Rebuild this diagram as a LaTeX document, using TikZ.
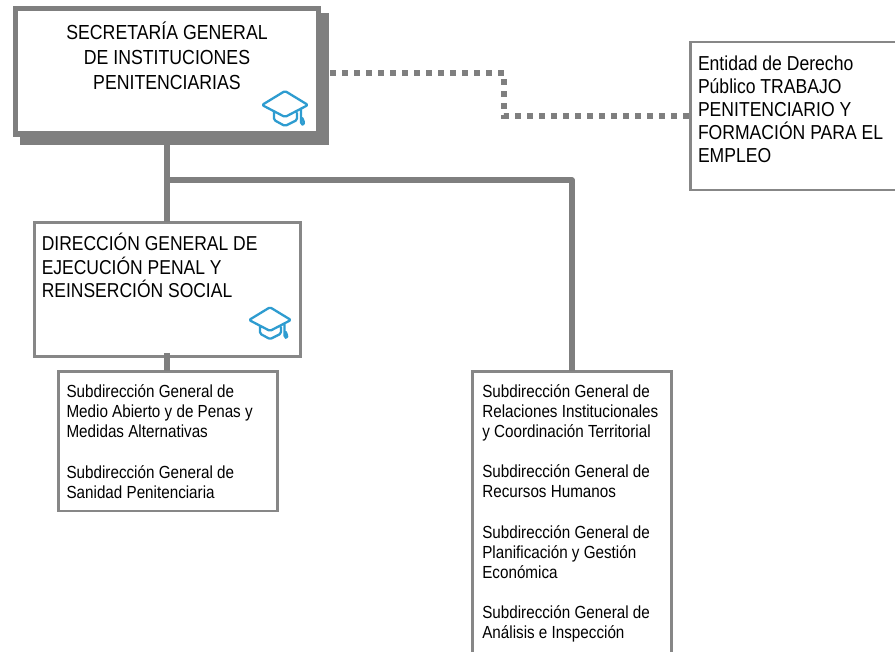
\documentclass[tikz,border=0pt]{standalone}
\usepackage{fontspec}
\setmainfont{Liberation Sans}[FakeStretch=0.87]
\definecolor{linegray}{HTML}{7F7F7F}
\definecolor{boxgray}{HTML}{878787}
\definecolor{capblue}{HTML}{2E9CD0}
\newcommand{\boxtext}[3]{\parbox[c][#2pt][t]{#1pt}{\raggedright #3\par}}
\tikzset{
  x=1pt,y=-1pt,
  orgbox/.style={draw=linegray,fill=white,anchor=north west,inner sep=0pt,outer sep=0pt},
  thinbox/.style={orgbox,draw=boxgray,line width=2.6pt},
  secbox/.style={orgbox,line width=5.5pt},
  shadowbox/.style={fill=linegray,anchor=north west,inner sep=0pt,outer sep=0pt},
  trunk/.style={draw=linegray,line width=5.5pt},
  dotline/.style={draw=linegray,line width=5.6pt,dash pattern=on 6pt off 6pt},
  gradcap/.pic={
    \draw[capblue,line width=2.3pt,line join=round,line cap=round,rounded corners=1.5pt]
      (-23,0) -- (0,-14) -- (23,0) -- (0,12) -- cycle
      (-11,7) -- (-11,15) -- (0,21) -- (12,15) -- (12,8)
      (16,4) -- (16,19) -- (19,20) -- (18.5,15) -- (17,13);
  }
}
\begin{document}
\begin{tikzpicture}
\useasboundingbox (0,0) rectangle (895,652);
\clip (0,0) rectangle (895,652);
\node[shadowbox,minimum width=309pt,minimum height=132pt] (secshadow) at (20,13) {};
\coordinate (junction) at (167,180);
\coordinate (turn) at (572,180);
\coordinate (dotA) at (504,73.3);
\coordinate (dotB) at (504,116);
\node[secbox,minimum width=303pt,minimum height=125.5pt] (sec) at (15.5,8.75)
  {\boxtext{303}{125.5}{\vspace{13pt}\centering
   \fontsize{20.35}{25}\selectfont SECRETARÍA GENERAL\\ DE INSTITUCIONES\\ PENITENCIARIAS}};
\node[thinbox,minimum width=266pt,minimum height=134pt] (dir) at (34.3,222.5)
  {\hspace{5pt}\boxtext{256}{134}{\vspace{10.6pt}\fontsize{20.1}{23.5}\selectfont DIRECCIÓN GENERAL DE\\ EJECUCIÓN PENAL Y\\ REINSERCIÓN SOCIAL}\hspace{5pt}};
\node[thinbox,minimum width=219pt,minimum height=139.5pt] (subA) at (58.3,371.5)
  {\hspace{5.5pt}\boxtext{208}{139.5}{\vspace{12.8pt}\fontsize{17.5}{20}\selectfont Subdirección General de\\ Medio Abierto y de Penas y\\ Medidas Alternativas\\[21pt] Subdirección General de\\ Sanidad Penitenciaria}\hspace{5.5pt}};
\node[thinbox,minimum width=199pt,minimum height=300pt] (subB) at (472.3,371.5)
  {\hspace{7pt}\boxtext{186}{300}{\vspace{12.8pt}\fontsize{17.5}{20}\selectfont Subdirección General de\\ Relaciones Institucionales\\ y Coordinación Territorial\\[20.5pt] Subdirección General de\\ Recursos Humanos\\[20.5pt] Subdirección General de\\ Planificación y Gestión\\ Económica\\[20.5pt] Subdirección General de\\ Análisis e Inspección}\hspace{6pt}};
\node[thinbox,minimum width=230pt,minimum height=148pt] (ent) at (690.5,42)
  {\hspace{5pt}\boxtext{220}{148}{\vspace{14pt}\fontsize{20.2}{23}\selectfont Entidad de Derecho\\ Público TRABAJO\\ PENITENCIARIO Y\\ FORMACIÓN PARA EL\\ EMPLEO}\hspace{5pt}};
\draw[trunk] (secshadow.south -| junction) -- (dir.north -| junction);
\draw[trunk,line join=round] (junction) -- (turn) -- (subB.north -| turn);
\draw[trunk] ([yshift=3.5pt]dir.south -| junction) -- (subA.north -| junction);
\draw[dotline] (secshadow.east |- dotA) ++(1,0) -- (dotA) -- (dotB) -- (ent.west |- dotB);
\pic at (285,105) {gradcap};
\pic[scale=0.91] at (270,320) {gradcap};
\end{tikzpicture}
\end{document}
